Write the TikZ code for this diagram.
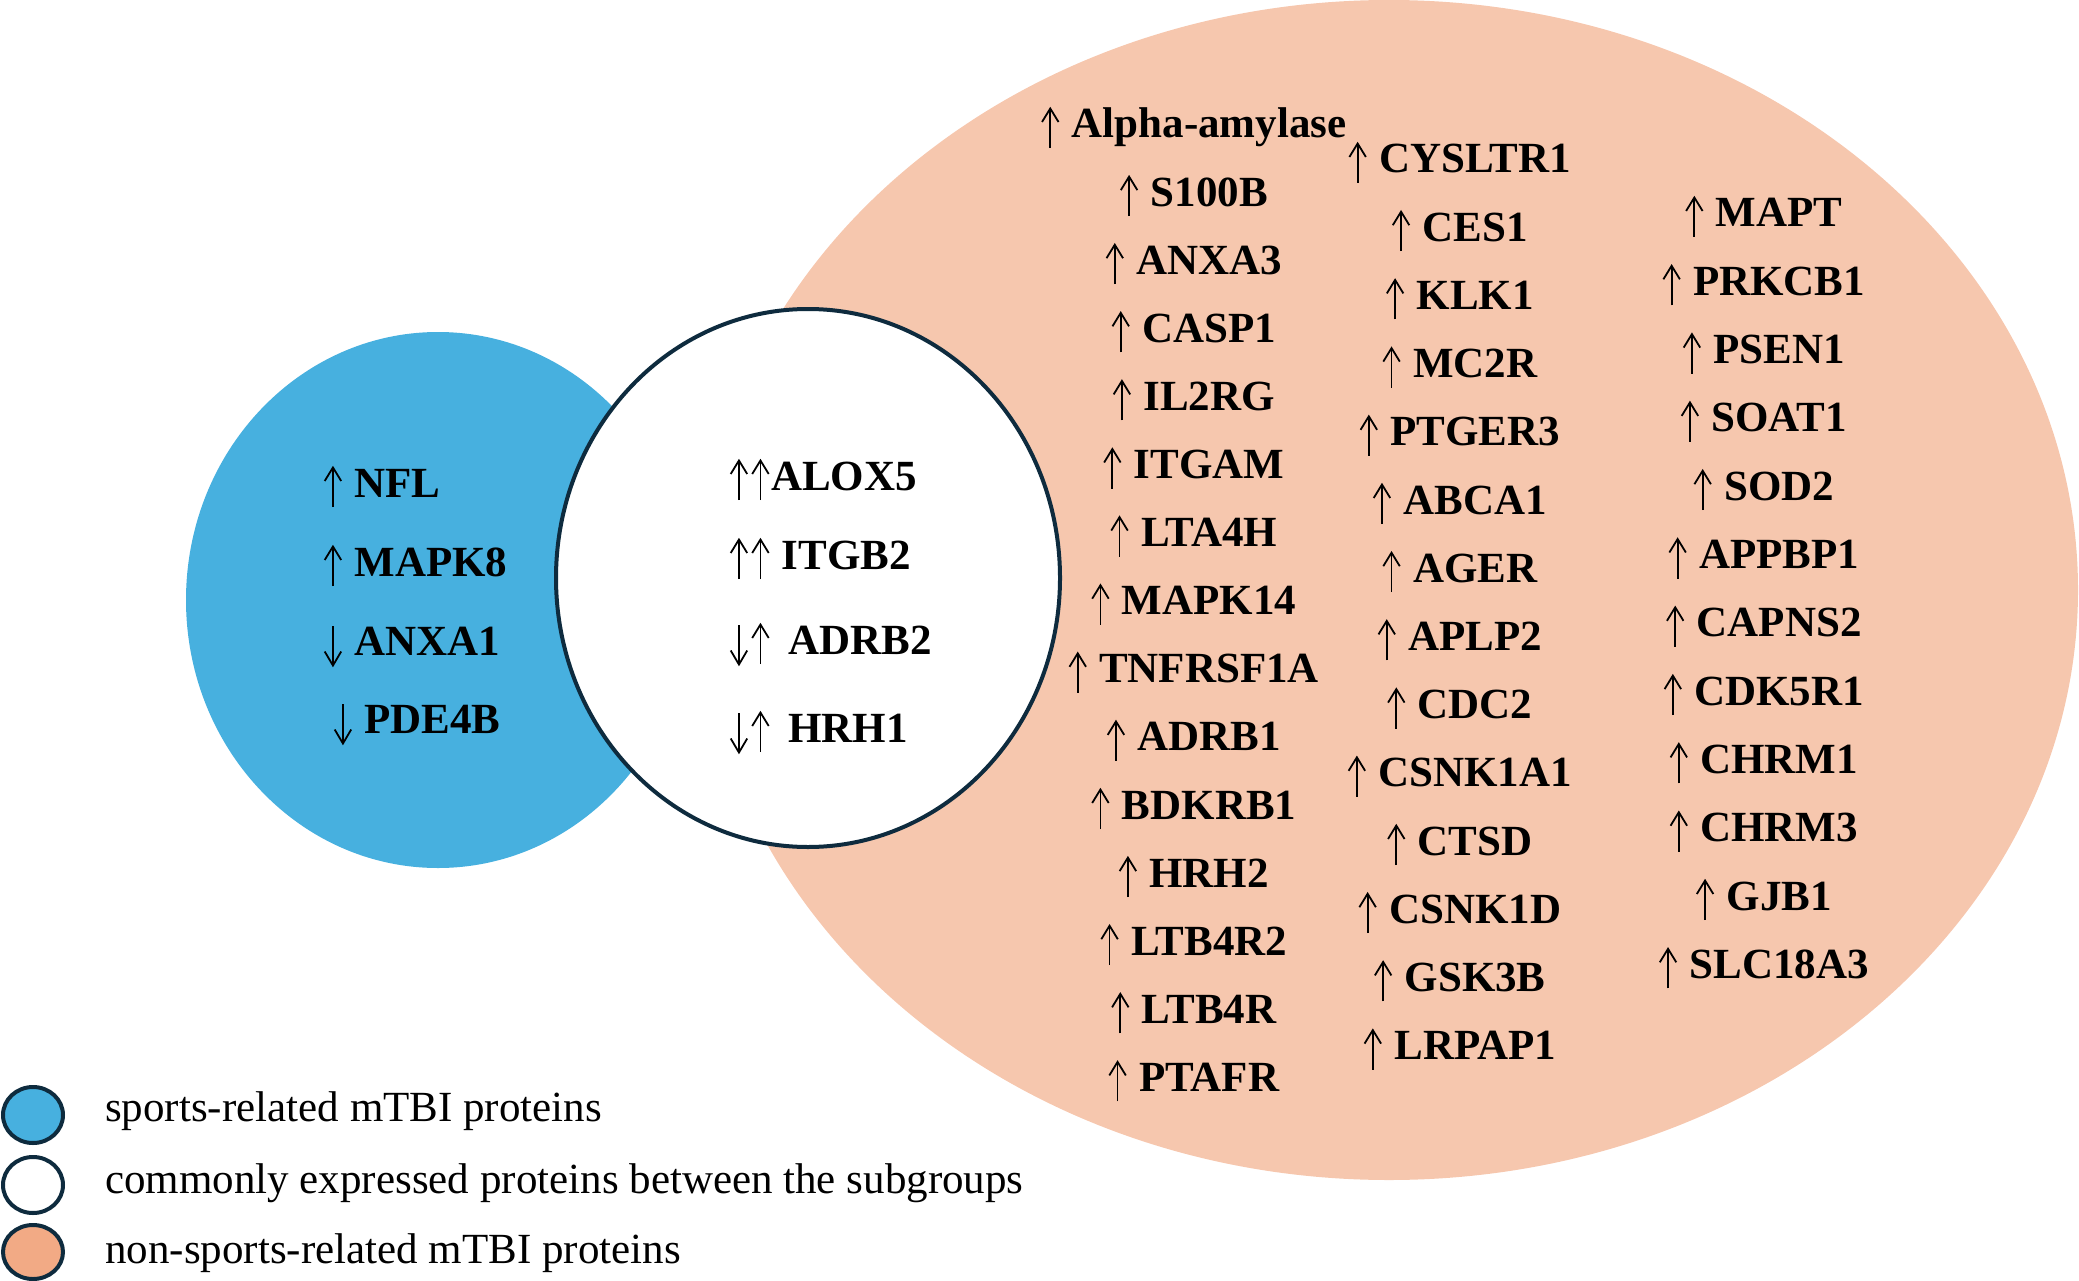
\documentclass[tikz,border=0pt]{standalone}
\usepackage{fontspec}
\setmainfont{Liberation Serif}
\definecolor{peach}{HTML}{F6C7AE}
\definecolor{peachleg}{HTML}{F2AA85}
\definecolor{sky}{HTML}{47B0DF}
\definecolor{navy}{HTML}{0E2B3E}
\newcommand{\upa}{\tikz[baseline=0pt,x=1pt,y=1pt,line width=1.8pt]{\path (0,-10) rectangle (21.5,29.5);
  \draw (10.75,-10) -- (10.75,29);
  \draw[line join=miter] (2.5,16) -- (10.75,29.5) -- (19,16);}}
\newcommand{\dna}{\tikz[baseline=0pt,x=1pt,y=1pt,line width=1.8pt]{\path (0,-10.5) rectangle (21.5,29);
  \draw (10.75,29) -- (10.75,-10);
  \draw[line join=miter] (2.5,3.5) -- (10.75,-10.5) -- (19,3.5);}}
\begin{document}
\begin{tikzpicture}[x=1pt,y=-1pt,
  gene/.style={font=\fontsize{43}{50}\selectfont\bfseries, inner sep=0pt, anchor=base},
  genew/.style={gene, anchor=base west},
  legtext/.style={font=\fontsize{43}{50}\selectfont, inner sep=0pt, anchor=base west},
  legmark/.style={draw=navy, line width=4pt}]
\useasboundingbox (0,0) rectangle (2079,1281);
% sets
\fill[peach] (1389,590) ellipse [x radius=689, y radius=590];
\fill[sky] (438,600) ellipse [x radius=252, y radius=268];
\filldraw[fill=white, draw=navy, line width=4pt] (808,578) ellipse [x radius=252, y radius=269];
% column 1
\foreach \g [count=\i from 0] in {Alpha-amylase,S100B,ANXA3,CASP1,IL2RG,ITGAM,LTA4H,MAPK14,TNFRSF1A,ADRB1,BDKRB1,HRH2,LTB4R2,LTB4R,PTAFR}
  \node[gene] (ca\i) at (1193,{138+68.1*\i}) {\upa\ \g};
% column 2
\foreach \g [count=\i from 0] in {CYSLTR1,CES1,KLK1,MC2R,PTGER3,ABCA1,AGER,APLP2,CDC2,CSNK1A1,CTSD,CSNK1D,GSK3B,LRPAP1}
  \node[gene] (cb\i) at (1459,{173+68.2*\i}) {\upa\ \g};
% column 3
\foreach \g [count=\i from 0] in {MAPT,PRKCB1,PSEN1,SOAT1,SOD2,APPBP1,CAPNS2,CDK5R1,CHRM1,CHRM3,GJB1,SLC18A3}
  \node[gene] (cc\i) at (1763,{227+68.3*\i}) {\upa\ \g};
% sports-related
\node[genew] (nfl) at (322,497) {\upa\ NFL};
\node[genew] (mapk8) at (322,576) {\upa\ MAPK8};
\node[genew] (anxa1) at (322,655) {\dna\ ANXA1};
\node[genew] (pde4b) at (332,733) {\dna\ PDE4B};
% common
\node[genew] (alox5) at (728,490) {\upa\upa ALOX5};
\node[genew] (itgb2) at (728,569) {\upa\upa\ ITGB2};
\node[genew] (adrb2) at (728,654) {\dna\upa\hspace{17pt}ADRB2};
\node[genew] (hrh1) at (728,742) {\dna\upa\hspace{17pt}HRH1};
% legend
\filldraw[legmark, fill=sky] (33,1115) ellipse [x radius=30, y radius=28];
\filldraw[legmark, fill=white] (33,1185) ellipse [x radius=30, y radius=28];
\filldraw[legmark, fill=peachleg] (33,1252) ellipse [x radius=30, y radius=27];
\node[legtext] (l1) at (105,1121) {sports-related mTBI proteins};
\node[legtext] (l2) at (105,1193) {commonly expressed proteins between the subgroups};
\node[legtext] (l3) at (105,1263) {non-sports-related mTBI proteins};
\end{tikzpicture}
\end{document}
